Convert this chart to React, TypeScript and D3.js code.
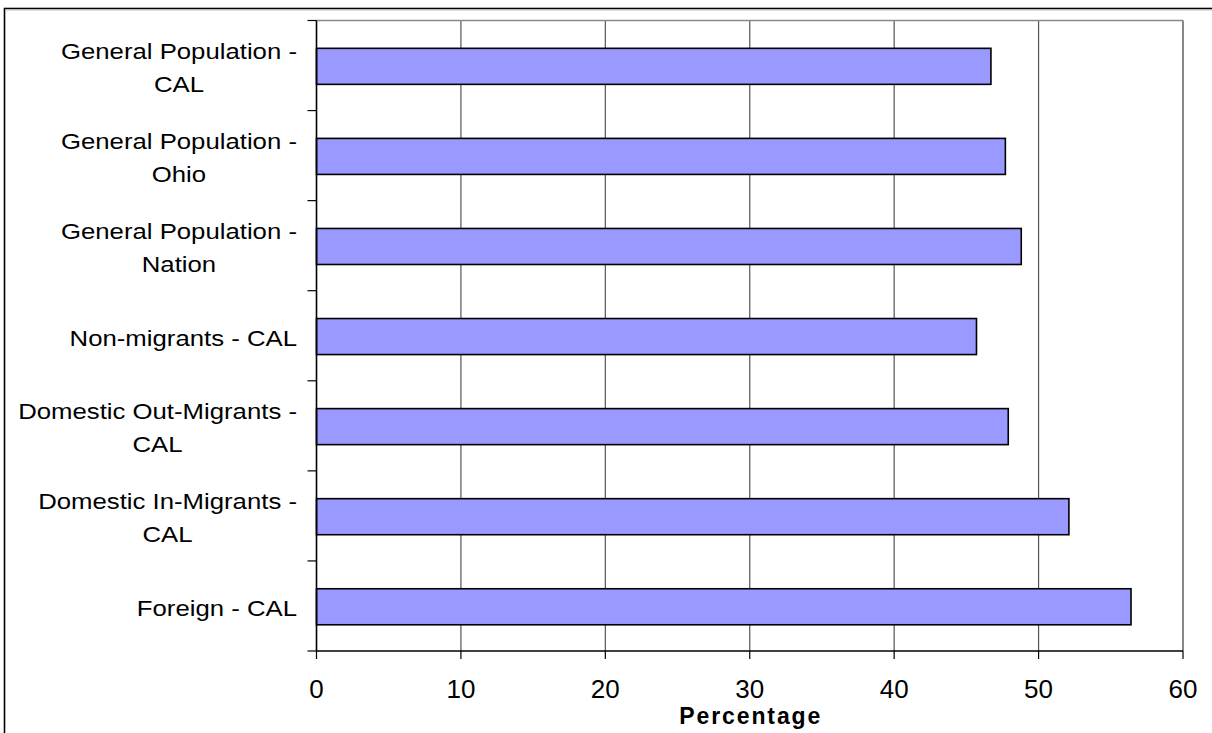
import React from "react";
import * as d3 from "d3";

const categories = [
  "General Population - CAL",
  "General Population - Ohio",
  "General Population - Nation",
  "Non-migrants - CAL",
  "Domestic Out-Migrants - CAL",
  "Domestic In-Migrants - CAL",
  "Foreign - CAL",
];
const categoryLines = [
  ["General Population -", "CAL"],
  ["General Population -", "Ohio"],
  ["General Population -", "Nation"],
  ["Non-migrants - CAL"],
  ["Domestic Out-Migrants -", "CAL"],
  ["Domestic In-Migrants -", "CAL"],
  ["Foreign - CAL"],
];
const values = [46.7, 47.7, 48.8, 45.7, 47.9, 52.1, 56.4];
const xTicks = [0, 10, 20, 30, 40, 50, 60];
const xTitle = "Percentage";

const W = 1212;
const H = 733;
const left = 316.5;
const right = 1183;
const top = 20.5;
const bottom = 651;
const FONT = "'Liberation Sans', Arial, sans-serif";

let ctx: CanvasRenderingContext2D | null = null;
function measure(text: string, font: string) {
  if (!ctx) ctx = document.createElement("canvas").getContext("2d");
  if (!ctx) return text.length * 11;
  ctx.font = font;
  return ctx.measureText(text).width;
}

export default function App() {
  const x = d3.scaleLinear().domain([0, 60]).range([left, right]);
  const y = d3.scaleBand<string>().domain(categories).range([top, bottom]).paddingInner(0.6).paddingOuter(0.3);
  const step = y.step();
  const labelSize = 22;
  const sx = 1.17;
  return (
    <svg width={W} height={H} style={{ position: "absolute", left: 0, top: 0, background: "#fff" }}>
      <rect x={4.5} y={8.5} width={1240} height={760} fill="#fff" stroke="#000" strokeWidth={1.6} />
      <line x1={5} x2={W} y1={10} y2={10} stroke="#bbb" strokeWidth={1} />
      {xTicks.slice(1, -1).map((t) => (
        <line key={t} x1={x(t)} x2={x(t)} y1={top} y2={bottom} stroke="#555" strokeWidth={1.2} />
      ))}
      <line x1={left} x2={right} y1={top} y2={top} stroke="#888" strokeWidth={1.6} />
      <line x1={right} x2={right} y1={top} y2={bottom} stroke="#888" strokeWidth={2} />
      {categories.map((c, i) => (
        <rect
          key={c}
          x={x(0)}
          y={y(c)! + 0.8}
          width={x(values[i]) - x(0)}
          height={y.bandwidth()}
          fill="#9999FF"
          stroke="#000"
          strokeWidth={1.6}
        />
      ))}
      <line x1={left} x2={left} y1={top} y2={bottom} stroke="#000" strokeWidth={1.6} />
      <line x1={left} x2={right} y1={bottom} y2={bottom} stroke="#000" strokeWidth={1.4} />
      {d3.range(categories.length + 1).map((i) => (
        <line key={i} x1={left - 9} x2={left} y1={top + i * step} y2={top + i * step} stroke="#000" strokeWidth={1.2} />
      ))}
      {xTicks.map((t) => (
        <g key={t}>
          <line x1={x(t)} x2={x(t)} y1={bottom} y2={bottom + 8} stroke="#000" strokeWidth={1.2} />
          <text x={x(t)} y={698} textAnchor="middle" fontFamily={FONT} fontSize={26} fill="#000">
            {t}
          </text>
        </g>
      ))}
      {categoryLines.map((lines, i) => {
        const c = top + step * (i + 0.5);
        const font = `${labelSize}px ${FONT}`;
        const maxW = Math.max(...lines.map((l) => measure(l, font)));
        const n = lines.length;
        return (
          <g key={i} transform={`translate(297,0) scale(${sx},1)`}>
            {lines.map((l, j) => (
              <text
                key={j}
                x={-maxW / 2}
                y={c + 9.8 + (j - (n - 1) / 2) * 32.6}
                textAnchor="middle"
                fontFamily={FONT}
                fontSize={labelSize}
                fill="#000"
              >
                {l}
              </text>
            ))}
          </g>
        );
      })}
      <text
        x={(left + right) / 2 + 1}
        y={724.3}
        textAnchor="middle"
        fontFamily={FONT}
        fontSize={23}
        fontWeight="bold"
        letterSpacing={1.9}
        fill="#000"
      >
        {xTitle}
      </text>
    </svg>
  );
}
